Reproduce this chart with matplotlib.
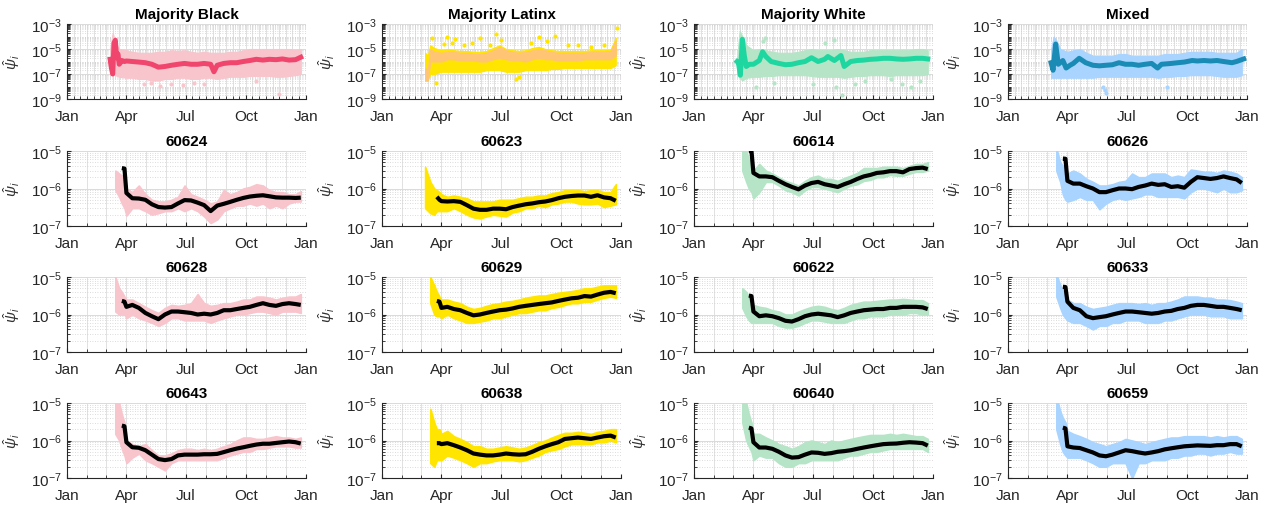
import numpy as np
import matplotlib.pyplot as plt
import matplotlib.dates as mdates
from matplotlib.ticker import FixedLocator, LogLocator, NullFormatter

plt.rcParams['font.family'] = ['Liberation Sans', 'DejaVu Sans']
plt.rcParams['mathtext.fontset'] = 'custom'
plt.rcParams['mathtext.rm'] = 'Liberation Sans'
plt.rcParams['mathtext.it'] = 'Liberation Sans:italic'
plt.rcParams['mathtext.bf'] = 'Liberation Sans:bold'

nan = np.nan
BASE = np.datetime64('2020-01-01')

# ---------------- top row: all zip codes per group ----------------
top_days = [66, 70, 74, 80, 91, 100, 110, 120, 130, 140, 150, 160, 170, 180, 190, 200,
            210, 220, 230, 240, 250, 260, 270, 280, 290, 300, 310, 320, 330, 340, 350, 358]

black_lo = [1e-7, 1e-7, 8e-8, 6e-8, 5e-8, 5e-8, 4e-8, 4e-8, 3e-8, 3e-8, 4e-8, 4e-8, 5e-8, 5e-8, 4e-8, 4e-8,
            5e-8, 5e-8, 4e-8, 5e-8, 6e-8, 6e-8, 6e-8, 7e-8, 7e-8, 7e-8, 7e-8, 6e-8, 6e-8, 7e-8, 8e-8, 1e-7]
black_hi = [1e-5, 2e-4, 3e-5, 1e-5, 8e-6, 6e-6, 5e-6, 5e-6, 5e-6, 6e-6, 6e-6, 8e-6, 7e-6, 8e-6, 6e-6, 5e-6,
            6e-6, 5e-6, 5e-6, 5e-6, 6e-6, 6e-6, 8e-6, 1e-5, 1e-5, 1e-5, 1e-5, 1e-5, 1e-5, 1e-5, 8e-6, 1e-5]
black_out_days = [118, 128, 142, 160, 178, 195, 210, 290, 325]
black_out_vals = [1.5e-8, 2e-8, 1.2e-8, 1.5e-8, 1.3e-8, 2e-8, 1.5e-8, 3e-8, 2.5e-9]
black_med_days = [66, 68, 70, 72, 74, 76, 78, 80, 84, 88, 91, 100, 110, 120, 130, 140, 150, 160, 170, 180,
                  190, 200, 210, 220, 225, 230, 240, 250, 260, 270, 280, 290, 300, 310, 320, 330, 340, 350, 358]
black_med = [1.5e-6, 3e-7, 1e-7, 3e-5, 5e-5, 2e-6, 4e-6, 6e-7, 1.2e-6, 1e-6, 1.1e-6, 1e-6, 9e-7, 8e-7, 6e-7,
             3.5e-7, 4e-7, 5e-7, 6e-7, 7e-7, 6e-7, 6e-7, 7e-7, 6e-7, 1.5e-7, 5e-7, 7e-7, 8e-7, 8e-7, 1e-6,
             1.2e-6, 1.5e-6, 1.3e-6, 1.5e-6, 1.4e-6, 1.6e-6, 1.3e-6, 1.4e-6, 2.2e-6]

latinx_lo = [3e-8, 3e-8, 1e-7, 1e-7, 1.5e-7, 1.5e-7, 1.5e-7, 1.5e-7, 1.5e-7, 1.5e-7, 1.5e-7, 2e-7, 2e-7, 2e-7,
             1.5e-7, 1.5e-7, 1.5e-7, 2e-7, 2e-7, 2e-7, 2e-7, 2.5e-7, 2.5e-7, 3e-7, 3e-7, 3e-7, 3e-7, 3e-7,
             3e-7, 3e-7, 3e-7, 5e-7]
latinx_hi = [5e-6, 3e-6, 2e-5, 1.2e-5, 8e-6, 1e-5, 8e-6, 7e-6, 7e-6, 6e-6, 6e-6, 7e-6, 1.2e-5, 2e-5,
             1e-5, 8e-6, 7e-6, 8e-6, 1.2e-5, 1.5e-5, 1e-5, 8e-6, 7e-6, 7e-6, 7e-6, 7e-6, 7e-6, 8e-6,
             8e-6, 8e-6, 9e-6, 8e-5]
latinx_out_days = [76, 83, 95, 100, 107, 112, 125, 138, 150, 165, 175, 182, 205, 210, 228, 240, 252, 265,
                   285, 300, 320, 340, 360]
latinx_out_vals = [8e-5, 1.9e-8, 2.5e-5, 1e-4, 3e-5, 6e-5, 2e-5, 3e-5, 7e-5, 2e-5, 1.5e-4, 5e-5, 4e-8, 6e-8,
                   3e-5, 1e-4, 4e-5, 1.2e-4, 2e-5, 2e-5, 1.5e-5, 2e-5, 5e-4]
latinx_med_lo = [3e-8, 3e-8, 1e-6, 1e-6, 1e-6, 1.5e-6, 1.5e-6, 1.2e-6, 1.2e-6, 1.2e-6, 1e-6, 1e-6, 1.5e-6,
                 2e-6, 1.5e-6, 1.2e-6, 1.2e-6, 1e-6, 1.5e-6, 2e-6, 1.5e-6, 1.5e-6, 1.2e-6, 1.2e-6, 1.2e-6,
                 1.2e-6, 1.5e-6, 1.5e-6, 1.5e-6, 1.5e-6, 1.5e-6, 3e-6]
latinx_med_hi = [3e-7, 2e-7, 1e-5, 6e-6, 5e-6, 6e-6, 6e-6, 5e-6, 5e-6, 4e-6, 4e-6, 5e-6, 8e-6, 1.5e-5, 8e-6,
                 6e-6, 5e-6, 6e-6, 8e-6, 1e-5, 8e-6, 6e-6, 5e-6, 5e-6, 5e-6, 5e-6, 5e-6, 6e-6, 6e-6, 6e-6,
                 7e-6, 5e-5]

white_lo = [1e-7, 5e-8, 3e-8, 5e-8, 6e-8, 6e-8, 7e-8, 7e-8, 8e-8, 8e-8, 8e-8, 8e-8, 8e-8, 7e-8, 6e-8, 6e-8,
            6e-8, 6e-8, 5e-8, 6e-8, 7e-8, 7e-8, 8e-8, 8e-8, 8e-8, 7e-8, 8e-8, 8e-8, 8e-8, 8e-8, 8e-8, 1e-7]
white_hi = [2e-6, 3e-4, 1e-4, 2e-5, 8e-6, 1e-5, 8e-6, 6e-6, 5e-6, 5e-6, 5e-6, 6e-6, 8e-6, 1e-5, 8e-6, 8e-6,
            8e-6, 1e-5, 8e-6, 6e-6, 6e-6, 6e-6, 8e-6, 8e-6, 8e-6, 8e-6, 8e-6, 8e-6, 8e-6, 1e-5, 1e-5, 8e-6]
white_out_days = [95, 105, 108, 122, 182, 200, 215, 218, 226, 246, 262, 302, 318, 332, 346]
white_out_vals = [1e-8, 4e-5, 8e-5, 2e-8, 1.5e-8, 3e-5, 5e-5, 1e-8, 2e-9, 1.5e-8, 3e-8, 4e-8, 1.5e-8, 1e-8, 3e-8]
white_med_days = [66, 68, 71, 74, 77, 80, 85, 91, 100, 105, 110, 118, 130, 140, 150, 160, 170, 180, 190,
                  200, 205, 215, 225, 230, 240, 250, 260, 270, 280, 290, 300, 310, 320, 330, 340, 350, 358]
white_med = [1e-6, 8e-7, 8e-8, 6e-5, 3e-6, 4e-7, 6e-7, 6e-7, 1.2e-6, 6e-6, 2.5e-6, 1e-6, 7e-7, 5.5e-7, 6e-7,
             8e-7, 1e-6, 2e-6, 1e-6, 1.5e-6, 2.5e-6, 1.2e-6, 3e-6, 4e-7, 1e-6, 1.2e-6, 1.3e-6, 1.5e-6,
             1.6e-6, 1.8e-6, 1.8e-6, 1.6e-6, 1.5e-6, 1.6e-6, 1.8e-6, 1.8e-6, 1.6e-6]

mixed_lo = [5e-8, 5e-8, 5e-8, 5e-8, 5e-8, 5e-8, 5e-8, 5e-8, 5e-8, 6e-8, 6e-8, 6e-8, 6e-8, 6e-8, 6e-8, 6e-8,
            6e-8, 6e-8, 5e-8, 6e-8, 6e-8, 7e-8, 7e-8, 8e-8, 8e-8, 8e-8, 8e-8, 7e-8, 6e-8, 6e-8, 6e-8, 8e-8]
mixed_hi = [1e-5, 1e-4, 5e-5, 1e-5, 6e-6, 8e-6, 1e-5, 5e-6, 3e-6, 3e-6, 3e-6, 3e-6, 4e-6, 4e-6, 3e-6, 3e-6,
            3e-6, 3e-6, 3e-6, 4e-6, 4e-6, 4e-6, 5e-6, 6e-6, 6e-6, 6e-6, 6e-6, 5e-6, 5e-6, 5e-6, 5e-6, 1e-5]
mixed_out_days = [146, 148, 150, 243]
mixed_out_vals = [1e-8, 5e-9, 3e-9, 1e-8]
mixed_med_days = [66, 69, 73, 77, 84, 89, 95, 100, 109, 119, 130, 140, 150, 160, 170, 180, 190, 200, 210,
                  220, 229, 235, 250, 260, 270, 282, 290, 300, 310, 320, 330, 343, 350, 361]
mixed_med = [8e-7, 2e-7, 2.5e-5, 6e-7, 1.2e-6, 3e-7, 5e-7, 7e-7, 1.8e-6, 8e-7, 5e-7, 4.5e-7, 5e-7, 5.5e-7,
             8e-7, 6e-7, 6e-7, 5e-7, 6e-7, 7e-7, 3e-7, 6e-7, 7e-7, 8e-7, 9e-7, 1.2e-6, 1.1e-6, 1.2e-6,
             1.1e-6, 1.2e-6, 1e-6, 8e-7, 1e-6, 1.6e-6]

# ---------------- single zip codes: daily range + smoothed estimate ----------------
days = [66, 74, 80, 84, 88, 91, 100, 110, 120, 130, 140, 150, 160, 170, 180, 190, 200, 210, 220, 230,
        240, 250, 260, 270, 280, 290, 300, 310, 320, 330, 340, 350, 358]

line_60624 = [nan, nan, nan, 3.5e-6, 3.4e-6, 7.6e-7, 5.5e-7, 5.4e-7, 5.0e-7, 3.8e-7, 3.2e-7, 3.1e-7, 3.2e-7,
              4.0e-7, 4.9e-7, 4.8e-7, 4.2e-7, 3.6e-7, 2.5e-7, 3.5e-7, 3.9e-7, 4.4e-7, 5.0e-7, 5.6e-7, 6.1e-7,
              6.4e-7, 6.6e-7, 6.2e-7, 5.8e-7, 5.7e-7, 5.7e-7, 5.6e-7, 5.7e-7]
lo_60624 = [nan, 9e-7, 6e-7, 4e-7, 3e-7, 1.9e-7, 3e-7, 3e-7, 2.5e-7, 2e-7, 2.2e-7, 2.5e-7, 2.5e-7, 3e-7, 2.5e-7,
            3e-7, 2.5e-7, 1.8e-7, 1.2e-7, 1.5e-7, 2.5e-7, 3e-7, 3.5e-7, 3.5e-7, 4e-7, 3.5e-7, 4e-7, 3e-7,
            3.5e-7, 3e-7, 4e-7, 4.5e-7, 4.5e-7]
hi_60624 = [nan, 3e-6, 2.5e-6, 2.2e-6, 2e-6, 1e-6, 8e-7, 1.2e-6, 7e-7, 5e-7, 4.5e-7, 4.5e-7, 5e-7, 6e-7, 1.2e-6,
            7e-7, 6e-7, 5e-7, 4e-7, 4.5e-7, 9e-7, 7e-7, 8e-7, 1e-6, 1.1e-6, 1.3e-6, 1.2e-6, 9e-7, 8e-7, 8e-7,
            7e-7, 7e-7, 8.5e-7]

line_60623 = [nan, nan, nan, 6e-7, 5e-7, 4.6e-7, 4.5e-7, 4.6e-7, 4.4e-7, 3.6e-7, 2.9e-7, 2.7e-7, 2.7e-7,
              2.9e-7, 2.9e-7, 2.8e-7, 3.2e-7, 3.5e-7, 3.8e-7, 4.0e-7, 4.3e-7, 4.5e-7, 4.9e-7, 5.5e-7, 6.0e-7,
              6.3e-7, 6.5e-7, 6.5e-7, 6.0e-7, 6.6e-7, 5.8e-7, 5.5e-7, 4.7e-7]
lo_60623 = [3e-7, 2.2e-7, 2e-7, 2.5e-7, 2.5e-7, 2.5e-7, 2.5e-7, 3e-7, 2.5e-7, 2e-7, 1.7e-7, 1.6e-7, 1.8e-7,
            2e-7, 1.9e-7, 1.8e-7, 2.3e-7, 2.5e-7, 3e-7, 3e-7, 3.5e-7, 3.2e-7, 3.8e-7, 4e-7, 4.5e-7, 4.5e-7,
            4e-7, 3.8e-7, 3.8e-7, 4e-7, 3.2e-7, 3.5e-7, 3.8e-7]
hi_60623 = [3.8e-6, 1.5e-6, 1e-6, 9e-7, 8e-7, 7e-7, 6e-7, 6.5e-7, 6e-7, 5.5e-7, 4.5e-7, 4.5e-7, 4.5e-7, 4.5e-7,
            5e-7, 5e-7, 5e-7, 5.5e-7, 6e-7, 6e-7, 6.5e-7, 6.5e-7, 7.5e-7, 8e-7, 9e-7, 9e-7, 9e-7, 8.5e-7,
            9e-7, 9e-7, 8e-7, 8e-7, 1.3e-6]

line_60614 = [nan, nan, nan, 1e-5, 1e-5, 2.6e-6, 2.1e-6, 2.1e-6, 2e-6, 1.6e-6, 1.3e-6, 1.1e-6, 9.5e-7, 1.2e-6,
              1.4e-6, 1.5e-6, 1.3e-6, 1.2e-6, 1.1e-6, 1.3e-6, 1.5e-6, 1.8e-6, 2.1e-6, 2.3e-6, 2.6e-6, 2.7e-6,
              2.9e-6, 2.9e-6, 2.7e-6, 3.3e-6, 3.5e-6, 3.6e-6, 3.3e-6]
lo_60614 = [nan, 3e-6, 1.5e-6, 1e-6, 8e-7, 5.5e-7, 8e-7, 1.5e-6, 1.5e-6, 1.2e-6, 9e-7, 8e-7, 6.5e-7, 9e-7,
            1.1e-6, 1.1e-6, 1e-6, 9e-7, 8e-7, 1e-6, 1.2e-6, 1.3e-6, 1.6e-6, 1.7e-6, 2e-6, 2e-6, 2.3e-6, 2.2e-6,
            2.2e-6, 2.5e-6, 2.8e-6, 2.8e-6, 3e-6]
hi_60614 = [nan, 1.5e-5, 1e-5, 6e-6, 5e-6, 3e-6, 4.5e-6, 3e-6, 2.5e-6, 2e-6, 1.6e-6, 1.4e-6, 1.2e-6, 1.6e-6,
            2e-6, 2.2e-6, 1.8e-6, 1.8e-6, 1.6e-6, 1.9e-6, 2.2e-6, 2.6e-6, 3.5e-6, 3.5e-6, 3.5e-6, 3.8e-6,
            3.8e-6, 3.8e-6, 3.5e-6, 4e-6, 4.5e-6, 4.5e-6, 5e-6]

line_60626 = [nan, nan, nan, 6.3e-6, 6.2e-6, 1.6e-6, 1.35e-6, 1.35e-6, 1.15e-6, 1e-6, 8e-7, 8e-7, 9e-7, 1e-6,
              1e-6, 9.6e-7, 1.1e-6, 1.2e-6, 1.35e-6, 1.25e-6, 1.3e-6, 1.1e-6, 1.15e-6, 1.05e-6, 1.5e-6, 2e-6,
              1.9e-6, 1.8e-6, 1.9e-6, 2.1e-6, 1.9e-6, 1.75e-6, 1.4e-6]
lo_60626 = [nan, 3e-6, 1.5e-6, 7e-7, 5e-7, 4.5e-7, 5e-7, 6e-7, 5e-7, 5e-7, 2.8e-7, 4e-7, 5e-7, 5.5e-7, 5e-7,
            5.5e-7, 6e-7, 7e-7, 7e-7, 6e-7, 6e-7, 6e-7, 6e-7, 5.5e-7, 8e-7, 1e-6, 1e-6, 9e-7, 8e-7, 1e-6, 8e-7,
            8e-7, 9e-7]
hi_60626 = [nan, 1.2e-5, 5e-6, 4e-6, 3e-6, 2.5e-6, 3e-6, 2.5e-6, 1.8e-6, 1.5e-6, 1.2e-6, 1.2e-6, 1.3e-6, 1.5e-6,
            1.6e-6, 2.5e-6, 2e-6, 2e-6, 2.5e-6, 2.5e-6, 2.5e-6, 2e-6, 2.2e-6, 2e-6, 3.2e-6, 3e-6, 2.8e-6,
            2.8e-6, 2.6e-6, 3e-6, 2.8e-6, 2.5e-6, 2e-6]

line_60628 = [nan, nan, nan, 2.3e-6, 2.2e-6, 1.6e-6, 1.8e-6, 1.5e-6, 1.1e-6, 9e-7, 7.5e-7, 1e-6, 1.2e-6, 1.2e-6,
              1.15e-6, 1.1e-6, 1e-6, 1.05e-6, 1e-6, 1.1e-6, 1.3e-6, 1.3e-6, 1.4e-6, 1.5e-6, 1.6e-6, 1.8e-6,
              2e-6, 1.8e-6, 1.7e-6, 1.9e-6, 2e-6, 1.9e-6, 1.8e-6]
lo_60628 = [nan, 1.2e-6, 1e-6, 1e-6, 1e-6, 8e-7, 1e-6, 8e-7, 7e-7, 6e-7, 5e-7, 6e-7, 8e-7, 8e-7, 7e-7, 7e-7,
            7e-7, 7e-7, 6e-7, 7e-7, 8e-7, 9e-7, 1e-6, 1e-6, 1.1e-6, 1.2e-6, 1.2e-6, 1.1e-6, 1e-6, 1.2e-6,
            1.2e-6, 1.2e-6, 1.1e-6]
hi_60628 = [nan, 1e-5, 5e-6, 4e-6, 3e-6, 2.5e-6, 2.5e-6, 2e-6, 1.6e-6, 1.3e-6, 1.1e-6, 1.5e-6, 1.8e-6, 1.7e-6,
            1.8e-6, 2e-6, 3.5e-6, 2e-6, 1.7e-6, 1.8e-6, 2e-6, 2e-6, 2.2e-6, 2.5e-6, 2.5e-6, 3e-6, 3e-6, 2.8e-6,
            2.5e-6, 2.8e-6, 3e-6, 3e-6, 3.5e-6]

line_60629 = [nan, nan, nan, 2.3e-6, 2.2e-6, 1.5e-6, 1.6e-6, 1.4e-6, 1.3e-6, 1.1e-6, 9.5e-7, 1e-6, 1.1e-6,
              1.2e-6, 1.3e-6, 1.35e-6, 1.45e-6, 1.6e-6, 1.7e-6, 1.8e-6, 1.9e-6, 2e-6, 2.1e-6, 2.3e-6, 2.5e-6,
              2.7e-6, 2.8e-6, 3.1e-6, 3e-6, 3.4e-6, 3.8e-6, 4e-6, 3.7e-6]
lo_60629 = [nan, 2e-6, 1e-6, 9e-7, 9e-7, 8e-7, 1e-6, 8e-7, 7e-7, 6e-7, 6e-7, 6.5e-7, 7e-7, 8e-7, 8e-7, 9e-7,
            1e-6, 1.1e-6, 1.1e-6, 1.2e-6, 1.3e-6, 1.3e-6, 1.5e-6, 1.6e-6, 1.8e-6, 2e-6, 2e-6, 2.2e-6, 2.2e-6,
            2.5e-6, 2.8e-6, 3e-6, 2.8e-6]
hi_60629 = [nan, 1e-5, 6e-6, 4e-6, 3e-6, 2.5e-6, 2.5e-6, 2.2e-6, 2e-6, 1.6e-6, 1.4e-6, 1.5e-6, 1.7e-6, 1.9e-6,
            2e-6, 2.2e-6, 2.3e-6, 2.5e-6, 2.8e-6, 3e-6, 3.2e-6, 3.2e-6, 3.5e-6, 3.8e-6, 4e-6, 4.2e-6, 4.5e-6,
            5e-6, 5e-6, 5.5e-6, 6e-6, 6e-6, 6e-6]

line_60622 = [nan, nan, nan, 3.2e-6, 3.1e-6, 1.2e-6, 9e-7, 9.5e-7, 9e-7, 8e-7, 6.8e-7, 6.5e-7, 7.5e-7, 9e-7,
              1e-6, 1.05e-6, 1e-6, 9.5e-7, 8.5e-7, 9.5e-7, 1.1e-6, 1.2e-6, 1.3e-6, 1.35e-6, 1.4e-6, 1.4e-6,
              1.5e-6, 1.5e-6, 1.6e-6, 1.6e-6, 1.6e-6, 1.55e-6, 1.4e-6]
lo_60622 = [nan, 1.5e-6, 9e-7, 7e-7, 6e-7, 6e-7, 6e-7, 6e-7, 6e-7, 5e-7, 4.5e-7, 4.5e-7, 5e-7, 6e-7, 7e-7,
            7e-7, 6.5e-7, 6e-7, 6e-7, 6e-7, 7e-7, 8e-7, 8e-7, 9e-7, 9e-7, 9e-7, 1e-6, 1e-6, 1e-6, 1.1e-6,
            1.1e-6, 1e-6, 1e-6]
hi_60622 = [nan, 5e-6, 4e-6, 3e-6, 2.5e-6, 1.8e-6, 1.6e-6, 1.5e-6, 1.3e-6, 1.2e-6, 1e-6, 1e-6, 1.2e-6, 1.4e-6,
            1.6e-6, 1.7e-6, 1.6e-6, 1.4e-6, 1.3e-6, 1.5e-6, 1.8e-6, 2e-6, 2.2e-6, 2.2e-6, 2.3e-6, 2.4e-6,
            2.5e-6, 2.5e-6, 2.6e-6, 2.5e-6, 2.4e-6, 2.4e-6, 2e-6]

line_60633 = [nan, nan, nan, 5.5e-6, 5.4e-6, 2.2e-6, 1.5e-6, 1.3e-6, 9e-7, 8e-7, 8.5e-7, 9e-7, 1e-6, 1.1e-6,
              1.2e-6, 1.2e-6, 1.15e-6, 1.1e-6, 1.05e-6, 1.1e-6, 1.2e-6, 1.25e-6, 1.4e-6, 1.5e-6, 1.7e-6,
              1.8e-6, 1.8e-6, 1.7e-6, 1.6e-6, 1.6e-6, 1.5e-6, 1.4e-6, 1.3e-6]
lo_60633 = [nan, 3e-6, 1.5e-6, 1e-6, 8e-7, 7e-7, 6e-7, 6e-7, 5e-7, 4e-7, 5e-7, 5e-7, 6e-7, 6e-7, 7e-7, 7e-7,
            7e-7, 6e-7, 6e-7, 6e-7, 7e-7, 7e-7, 8e-7, 9e-7, 1e-6, 1e-6, 1e-6, 9e-7, 9e-7, 9e-7, 8e-7, 8e-7,
            8e-7]
hi_60633 = [nan, 1.2e-5, 6e-6, 4e-6, 3e-6, 2.5e-6, 2e-6, 2e-6, 1.6e-6, 1.4e-6, 1.5e-6, 1.6e-6, 1.8e-6, 2e-6,
            2e-6, 2e-6, 1.9e-6, 2e-6, 1.8e-6, 2e-6, 2e-6, 2.2e-6, 2.5e-6, 3e-6, 3e-6, 3e-6, 2.8e-6, 2.8e-6,
            2.5e-6, 2.5e-6, 2.4e-6, 2.2e-6, 2e-6]

line_60643 = [nan, nan, nan, 2.5e-6, 2.4e-6, 9e-7, 6.6e-7, 6.4e-7, 5.5e-7, 4.2e-7, 3.2e-7, 3e-7, 3.2e-7, 4e-7,
              4.2e-7, 4.2e-7, 4.2e-7, 4.3e-7, 4.3e-7, 4.4e-7, 4.9e-7, 5.5e-7, 6.1e-7, 6.6e-7, 7.2e-7, 7.8e-7,
              8.2e-7, 8.2e-7, 8.6e-7, 9e-7, 9.4e-7, 9e-7, 8.3e-7]
lo_60643 = [nan, 1.5e-6, 1e-6, 6e-7, 4e-7, 2.5e-7, 3.5e-7, 4.5e-7, 3e-7, 2.5e-7, 2e-7, 1.6e-7, 2.5e-7, 3e-7,
            3e-7, 3e-7, 3e-7, 3e-7, 3e-7, 3e-7, 3.5e-7, 4e-7, 4.5e-7, 5e-7, 5e-7, 6e-7, 6e-7, 6.5e-7, 7e-7,
            7e-7, 7e-7, 6.5e-7, 6.5e-7]
hi_60643 = [nan, 1.2e-5, 1e-5, 5e-6, 3e-6, 1e-6, 8e-7, 7e-7, 8e-7, 5.5e-7, 4e-7, 4e-7, 4.5e-7, 5.5e-7, 6e-7,
            6e-7, 5.5e-7, 6e-7, 5.5e-7, 6e-7, 7e-7, 8e-7, 1e-6, 1.2e-6, 1.2e-6, 1.1e-6, 1.1e-6, 1.2e-6,
            1.3e-6, 1.2e-6, 1.2e-6, 1.1e-6, 1.2e-6]

line_60638 = [nan, nan, nan, 8.5e-7, 8.5e-7, 8e-7, 8.5e-7, 7.5e-7, 6.5e-7, 5.5e-7, 4.5e-7, 4.2e-7, 4e-7, 4e-7,
              4.2e-7, 4.5e-7, 4.3e-7, 4.2e-7, 4.3e-7, 5e-7, 6e-7, 7e-7, 8e-7, 9e-7, 1.1e-6, 1.15e-6, 1.2e-6,
              1.15e-6, 1.1e-6, 1.2e-6, 1.3e-6, 1.35e-6, 1.2e-6]
lo_60638 = [nan, 2.5e-7, 2e-7, 3e-7, 3e-7, 3e-7, 4e-7, 3.5e-7, 3e-7, 2.5e-7, 2e-7, 2.5e-7, 2.5e-7, 2.8e-7,
            3e-7, 3e-7, 3e-7, 2.8e-7, 3e-7, 3.5e-7, 4e-7, 5e-7, 5.5e-7, 6e-7, 7e-7, 8e-7, 8e-7, 8e-7, 8e-7,
            9e-7, 9e-7, 1e-6, 9e-7]
hi_60638 = [nan, 7e-6, 3e-6, 2e-6, 2e-6, 1.5e-6, 1.8e-6, 1.3e-6, 1.1e-6, 9e-7, 7e-7, 7e-7, 6e-7, 6e-7, 6.5e-7,
            7e-7, 6.5e-7, 6e-7, 6.5e-7, 7.5e-7, 9e-7, 1e-6, 1.2e-6, 1.4e-6, 1.6e-6, 1.6e-6, 1.7e-6, 1.6e-6,
            1.5e-6, 1.7e-6, 1.8e-6, 2e-6, 2e-6]

line_60640 = [nan, nan, nan, 2.2e-6, 2.1e-6, 9e-7, 6.5e-7, 6.5e-7, 6e-7, 5e-7, 4e-7, 3.5e-7, 3.6e-7, 4.2e-7,
              4.8e-7, 4.7e-7, 4.4e-7, 4.6e-7, 5e-7, 5.2e-7, 5.5e-7, 6e-7, 6.5e-7, 7e-7, 7.5e-7, 8e-7, 8.2e-7,
              8.3e-7, 8.7e-7, 9e-7, 8.8e-7, 8.5e-7, 7.3e-7]
lo_60640 = [nan, 3e-6, 1e-6, 7e-7, 5e-7, 3e-7, 4e-7, 3.5e-7, 3.5e-7, 2.5e-7, 2e-7, 2e-7, 2.5e-7, 2.5e-7, 3e-7,
            3e-7, 3e-7, 3e-7, 3e-7, 3.5e-7, 4e-7, 4e-7, 4.5e-7, 5e-7, 5e-7, 5.5e-7, 6e-7, 6e-7, 6e-7, 6e-7,
            6e-7, 6e-7, 5e-7]
hi_60640 = [nan, 1.5e-5, 1e-5, 5e-6, 3e-6, 1.5e-6, 1.5e-6, 1.2e-6, 1e-6, 8e-7, 7e-7, 6e-7, 7e-7, 9e-7, 1e-6,
            9e-7, 8e-7, 1e-6, 9e-7, 1e-6, 1.1e-6, 1.2e-6, 1.3e-6, 1.4e-6, 1.4e-6, 1.4e-6, 1.5e-6, 1.4e-6,
            1.5e-6, 1.4e-6, 1.3e-6, 1.3e-6, 1.1e-6]

line_60659 = [nan, nan, nan, 2.2e-6, 2.1e-6, 7e-7, 6.5e-7, 6.3e-7, 5.5e-7, 4.8e-7, 4e-7, 3.8e-7, 4.2e-7, 4.8e-7,
              5.5e-7, 5.2e-7, 4.8e-7, 4.5e-7, 4.8e-7, 5.2e-7, 5.8e-7, 6.2e-7, 6.6e-7, 7e-7, 7.2e-7, 7.4e-7,
              7.3e-7, 7.2e-7, 7.5e-7, 7.5e-7, 8e-7, 8e-7, 7e-7]
lo_60659 = [nan, 2e-6, 8e-7, 5e-7, 4e-7, 3.5e-7, 3.5e-7, 3.5e-7, 3e-7, 2.5e-7, 2e-7, 2e-7, 2.5e-7, 2.5e-7,
            2.5e-7, 1e-7, 2.5e-7, 2.5e-7, 3e-7, 3e-7, 3e-7, 3.5e-7, 3.5e-7, 4e-7, 4e-7, 4.5e-7, 4.5e-7, 4e-7,
            4.5e-7, 4.5e-7, 5e-7, 4.5e-7, 4.5e-7]
hi_60659 = [nan, 1.5e-5, 6e-6, 4e-6, 3e-6, 1.8e-6, 1.5e-6, 1.3e-6, 1.1e-6, 9e-7, 8e-7, 7e-7, 8e-7, 9e-7,
            1.1e-6, 1e-6, 9e-7, 8e-7, 9e-7, 1e-6, 1.1e-6, 1.2e-6, 1.2e-6, 1.3e-6, 1.3e-6, 1.3e-6, 1.3e-6,
            1.2e-6, 1.3e-6, 1.2e-6, 1.3e-6, 1.3e-6, 1.1e-6]

group_names = ['Majority Black', 'Majority Latinx', 'Majority White', 'Mixed']
light_colors = ['#F8C5CC', '#FFE500', '#B5E5C6', '#A8D4FF']
dark_colors = ['#F0466E', '#FFC575', '#1ED6A0', '#1A8BB5']

zips = [['60624', '60623', '60614', '60626'],
        ['60628', '60629', '60622', '60633'],
        ['60643', '60638', '60640', '60659']]
zip_data = {
    '60624': (line_60624, lo_60624, hi_60624), '60623': (line_60623, lo_60623, hi_60623),
    '60614': (line_60614, lo_60614, hi_60614), '60626': (line_60626, lo_60626, hi_60626),
    '60628': (line_60628, lo_60628, hi_60628), '60629': (line_60629, lo_60629, hi_60629),
    '60622': (line_60622, lo_60622, hi_60622), '60633': (line_60633, lo_60633, hi_60633),
    '60643': (line_60643, lo_60643, hi_60643), '60638': (line_60638, lo_60638, hi_60638),
    '60640': (line_60640, lo_60640, hi_60640), '60659': (line_60659, lo_60659, hi_60659),
}


def to_dates(d):
    return BASE + np.asarray(d).astype('timedelta64[D]')


def style(ax, top):
    ax.set_yscale('log')
    ax.set_xlim(BASE, np.datetime64('2021-01-01'))
    if top:
        ax.set_ylim(1e-9, 1e-3)
        ax.yaxis.set_major_locator(FixedLocator([1e-9, 1e-7, 1e-5, 1e-3]))
    else:
        ax.set_ylim(1e-7, 1e-5)
        ax.yaxis.set_major_locator(FixedLocator([1e-7, 1e-6, 1e-5]))
    ax.yaxis.set_minor_locator(LogLocator(base=10, subs=np.arange(1, 10) * 1.0, numticks=60))
    ax.yaxis.set_minor_formatter(NullFormatter())
    ax.xaxis.set_major_locator(mdates.MonthLocator(bymonth=[1, 4, 7, 10]))
    if top:
        ax.xaxis.set_minor_locator(mdates.DayLocator(bymonthday=[1, 11, 21]))
    else:
        ax.xaxis.set_minor_locator(mdates.MonthLocator())
    ax.xaxis.set_major_formatter(mdates.DateFormatter('%b'))
    ax.set_axisbelow(True)
    ax.xaxis.grid(True, which='both', color='#E1E1E1', lw=0.7, ls='-')
    ax.yaxis.grid(True, which='major', color='#DADADA', lw=0.7, ls='-')
    ax.yaxis.grid(True, which='minor', color='#D0D0D0', lw=0.6, ls=(0, (1, 2)))
    for s in ['top', 'right']:
        ax.spines[s].set_visible(False)
    for s in ['left', 'bottom']:
        ax.spines[s].set_color('#262626')
        ax.spines[s].set_linewidth(0.8)
    ax.tick_params(which='both', direction='in', colors='#262626', labelsize=11)
    ax.tick_params(axis='x', which='both', pad=7)
    ax.tick_params(axis='y', which='both', pad=4)
    ax.tick_params(which='major', length=3)
    ax.tick_params(which='minor', length=2)
    ax.set_ylabel(r'$\hat{\psi}_i$', fontsize=11, color='#333333', labelpad=6)


fig = plt.figure(figsize=(12.68, 5.06), dpi=100)
W, H = 1268, 506
col_left = [67, 382, 694, 1008]
row_top = [25, 152, 278, 404]
ax_w, ax_h = 239, 75

# top row: every zip code in the group with the group median
top_sets = [
    (black_lo, black_hi, None, None, black_out_days, black_out_vals, black_med_days, black_med),
    (latinx_lo, latinx_hi, latinx_med_lo, latinx_med_hi, latinx_out_days, latinx_out_vals, None, None),
    (white_lo, white_hi, None, None, white_out_days, white_out_vals, white_med_days, white_med),
    (mixed_lo, mixed_hi, None, None, mixed_out_days, mixed_out_vals, mixed_med_days, mixed_med),
]
tx = to_dates(top_days)
for c, (lo, hi, mlo, mhi, od, ov, md, mv) in enumerate(top_sets):
    ax = fig.add_axes([col_left[c] / W, 1 - (row_top[0] + ax_h) / H, ax_w / W, ax_h / H])
    style(ax, True)
    ax.fill_between(tx, lo, hi, color=light_colors[c], lw=0.8, edgecolor=light_colors[c])
    if mlo is not None:
        ax.fill_between(tx, mlo, mhi, color=dark_colors[c], lw=0.8, edgecolor=dark_colors[c], zorder=3)
    ax.scatter(to_dates(od), ov, s=9, color=light_colors[c], lw=0, zorder=3.5)
    if md is not None:
        ax.plot(to_dates(md), mv, color=dark_colors[c], lw=3.6, zorder=4)
    ax.set_title(group_names[c], fontsize=11, fontweight='bold', pad=4)

# remaining rows: single zip codes
dx = to_dates(days)
for r in range(3):
    for c in range(4):
        z = zips[r][c]
        line, lo, hi = zip_data[z]
        ax = fig.add_axes([col_left[c] / W, 1 - (row_top[r + 1] + ax_h) / H, ax_w / W, ax_h / H])
        style(ax, False)
        ax.fill_between(dx, lo, hi, color=light_colors[c], lw=1.2, edgecolor=light_colors[c])
        ax.plot(dx, line, color='black', lw=3, zorder=4, solid_capstyle='butt')
        ax.set_title(z, fontsize=11, fontweight='bold', pad=4)

fig.savefig('out.png', dpi=100)
